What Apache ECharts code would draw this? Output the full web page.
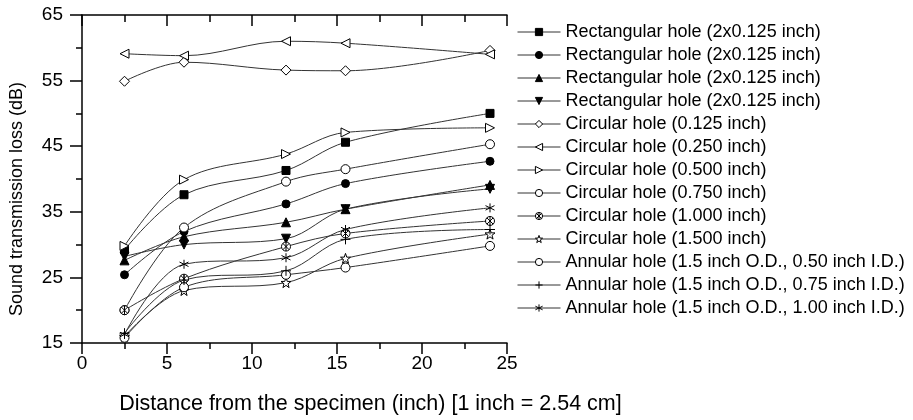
<!DOCTYPE html>
<html>
<head>
<meta charset="utf-8">
<script src="https://cdn.jsdelivr.net/npm/echarts@6/dist/echarts.min.js"></script>
<style>
  html, body { margin: 0; padding: 0; background: #fff; }
  #chart { width: 913px; height: 420px; }
</style>
</head>
<body>
<div id="chart"></div>
<script>
// distance from the specimen (inch)
const distance = [2.5, 6, 12, 15.5, 24]
// sound transmission loss (dB)
const rect1 = [29.2, 37.6, 41.3, 45.6, 50.0]
const rect2 = [25.4, 32.0, 36.2, 39.3, 42.7]
const rect3 = [27.6, 31.2, 33.4, 35.4, 39.1]
const rect4 = [28.2, 30.0, 30.9, 35.4, 38.5]
const circ0125 = [54.9, 57.8, 56.6, 56.5, 59.6]
const circ0250 = [59.1, 58.8, 61.0, 60.7, 59.0]
const circ0500 = [29.8, 39.9, 43.8, 47.1, 47.8]
const circ0750 = [20.0, 32.6, 39.6, 41.5, 45.3]
const circ1000 = [20.0, 24.8, 29.7, 31.7, 33.6]
const circ1500 = [16.0, 23.0, 24.2, 27.9, 31.6]
const ann050 = [15.8, 23.5, 25.4, 26.5, 29.8]
const ann075 = [16.5, 24.6, 26.0, 30.8, 32.3]
const ann100 = [16.3, 27.0, 28.0, 32.3, 35.6]

const seriesNames = [
  'Rectangular hole (2x0.125 inch) #1',
  'Rectangular hole (2x0.125 inch) #2',
  'Rectangular hole (2x0.125 inch) #3',
  'Rectangular hole (2x0.125 inch) #4',
  'Circular hole (0.125 inch)',
  'Circular hole (0.250 inch)',
  'Circular hole (0.500 inch)',
  'Circular hole (0.750 inch)',
  'Circular hole (1.000 inch)',
  'Circular hole (1.500 inch)',
  'Annular hole (1.5 inch O.D., 0.50 inch I.D.)',
  'Annular hole (1.5 inch O.D., 0.75 inch I.D.)',
  'Annular hole (1.5 inch O.D., 1.00 inch I.D.)'
]
const seriesData = [rect1, rect2, rect3, rect4, circ0125, circ0250, circ0500,
  circ0750, circ1000, circ1500, ann050, ann075, ann100]

// tick labels
const xLabels = [0, 5, 10, 15, 20, 25]
const yLabels = [15, 25, 35, 45, 55, 65]

const FONT = 'Liberation Sans, Arial, sans-serif'

// marker shapes
const S = {
  square: 'rect',
  circle: 'circle',
  up: 'path://M5,0L10,10L0,10Z',
  down: 'path://M0,0L10,0L5,10Z',
  left: 'path://M0,5L10,0L10,10Z',
  right: 'path://M10,5L0,0L0,10Z',
  diamond: 'diamond',
  crossCircle: 'path://M10,5A5,5,0,1,1,0,5A5,5,0,1,1,10,5ZM1.5,1.5L8.5,8.5M1.5,8.5L8.5,1.5M5,0L5,10',
  star: 'path://M5,0L6.18,3.38L9.76,3.45L6.9,5.62L7.94,9.05L5,7L2.06,9.05L3.1,5.62L0.24,3.45L3.82,3.38Z',
  plus: 'path://M5,0L5,10M0,5L10,5',
  asterisk: 'path://M5,0L5,10M0.67,2.5L9.33,7.5M0.67,7.5L9.33,2.5'
}
const marks = [
  [S.square, '#000', 8], [S.circle, '#000', 8], [S.up, '#000', 9], [S.down, '#000', 9],
  [S.diamond, '#fff', 10], [S.left, '#fff', 9], [S.right, '#fff', 9],
  [S.circle, '#fff', 9], [S.crossCircle, '#fff', 9], [S.star, '#fff', 10],
  [S.circle, '#fff', 9], [S.plus, '#fff', 10], [S.asterisk, '#fff', 9]
]

const chart = echarts.init(document.getElementById('chart'))

const series = seriesNames.map((name, i) => ({
  name: name,
  type: 'line',
  data: distance.map((d, j) => [d, seriesData[i][j]]),
  smooth: 0.35,
  symbol: marks[i][0],
  symbolSize: marks[i][2],
  itemStyle: { color: marks[i][1], borderColor: '#000', borderWidth: 1 },
  lineStyle: { color: '#333', width: 1 },
  emphasis: { disabled: true }
}))

const legendData = seriesNames.map((name, i) => ({
  name: name,
  itemStyle: { color: marks[i][1], borderColor: '#000', borderWidth: 1 }
}))

const option = {
  animation: false,
  textStyle: { fontFamily: FONT },
  grid: { left: 82, right: 406, top: 15, bottom: 73, containLabel: false },
  legend: {
    orient: 'vertical',
    left: 517,
    top: 23,
    padding: 0,
    itemWidth: 43,
    itemHeight: 9,
    itemGap: 5,
    data: legendData,
    formatter: name => name.replace(/ #\d$/, ''),
    itemStyle: { borderWidth: 1 },
    lineStyle: { width: 1 },
    textStyle: { fontSize: 18, color: '#000', fontFamily: FONT }
  },
  xAxis: [
    {
      type: 'value',
      min: 0,
      max: 25,
      interval: 5,
      name: 'Distance from the specimen (inch) [1 inch = 2.54 cm]',
      nameLocation: 'middle',
      nameGap: 50,
      nameTextStyle: { fontSize: 21.5, color: '#000', fontFamily: FONT, padding: [0, 0, 0, 152] },
      axisLine: { lineStyle: { color: '#000', width: 1.5 } },
      axisTick: { length: 11, lineStyle: { color: '#000', width: 1.5 } },
      minorTick: { show: true, splitNumber: 2, length: 6, lineStyle: { color: '#000', width: 1.5 } },
      axisLabel: { fontSize: 19, color: '#000', margin: 11, fontFamily: FONT },
      splitLine: { show: false }
    },
    {
      type: 'value',
      position: 'top',
      min: 0,
      max: 25,
      interval: 5,
      axisLine: { lineStyle: { color: '#000', width: 1.5 } },
      axisTick: { inside: true, length: 11, lineStyle: { color: '#000', width: 1.5 } },
      minorTick: { show: true, splitNumber: 2, length: 7, lineStyle: { color: '#000', width: 1.5 } },
      axisLabel: { show: false },
      splitLine: { show: false }
    }
  ],
  yAxis: [
    {
      type: 'value',
      min: 15,
      max: 65,
      interval: 5,
      name: 'Sound transmission loss (dB)',
      nameLocation: 'middle',
      nameGap: 56,
      nameTextStyle: { fontSize: 18, color: '#000', fontFamily: FONT, padding: [0, 40, 0, 0] },
      axisLine: { show: true, lineStyle: { color: '#000', width: 1.5 } },
      axisTick: { show: true, customValues: yLabels, length: 12, lineStyle: { color: '#000', width: 1.5 } },
      axisLabel: { customValues: yLabels, fontSize: 19, color: '#000', margin: 19, fontFamily: FONT },
      splitLine: { show: false }
    },
    {
      type: 'value',
      position: 'left',
      min: 15,
      max: 65,
      interval: 5,
      axisLine: { show: false },
      axisTick: { show: true, length: 6, lineStyle: { color: '#000', width: 1.5 } },
      axisLabel: { show: false },
      splitLine: { show: false }
    }
  ],
  series: series
}

chart.setOption(option)
</script>
</body>
</html>
